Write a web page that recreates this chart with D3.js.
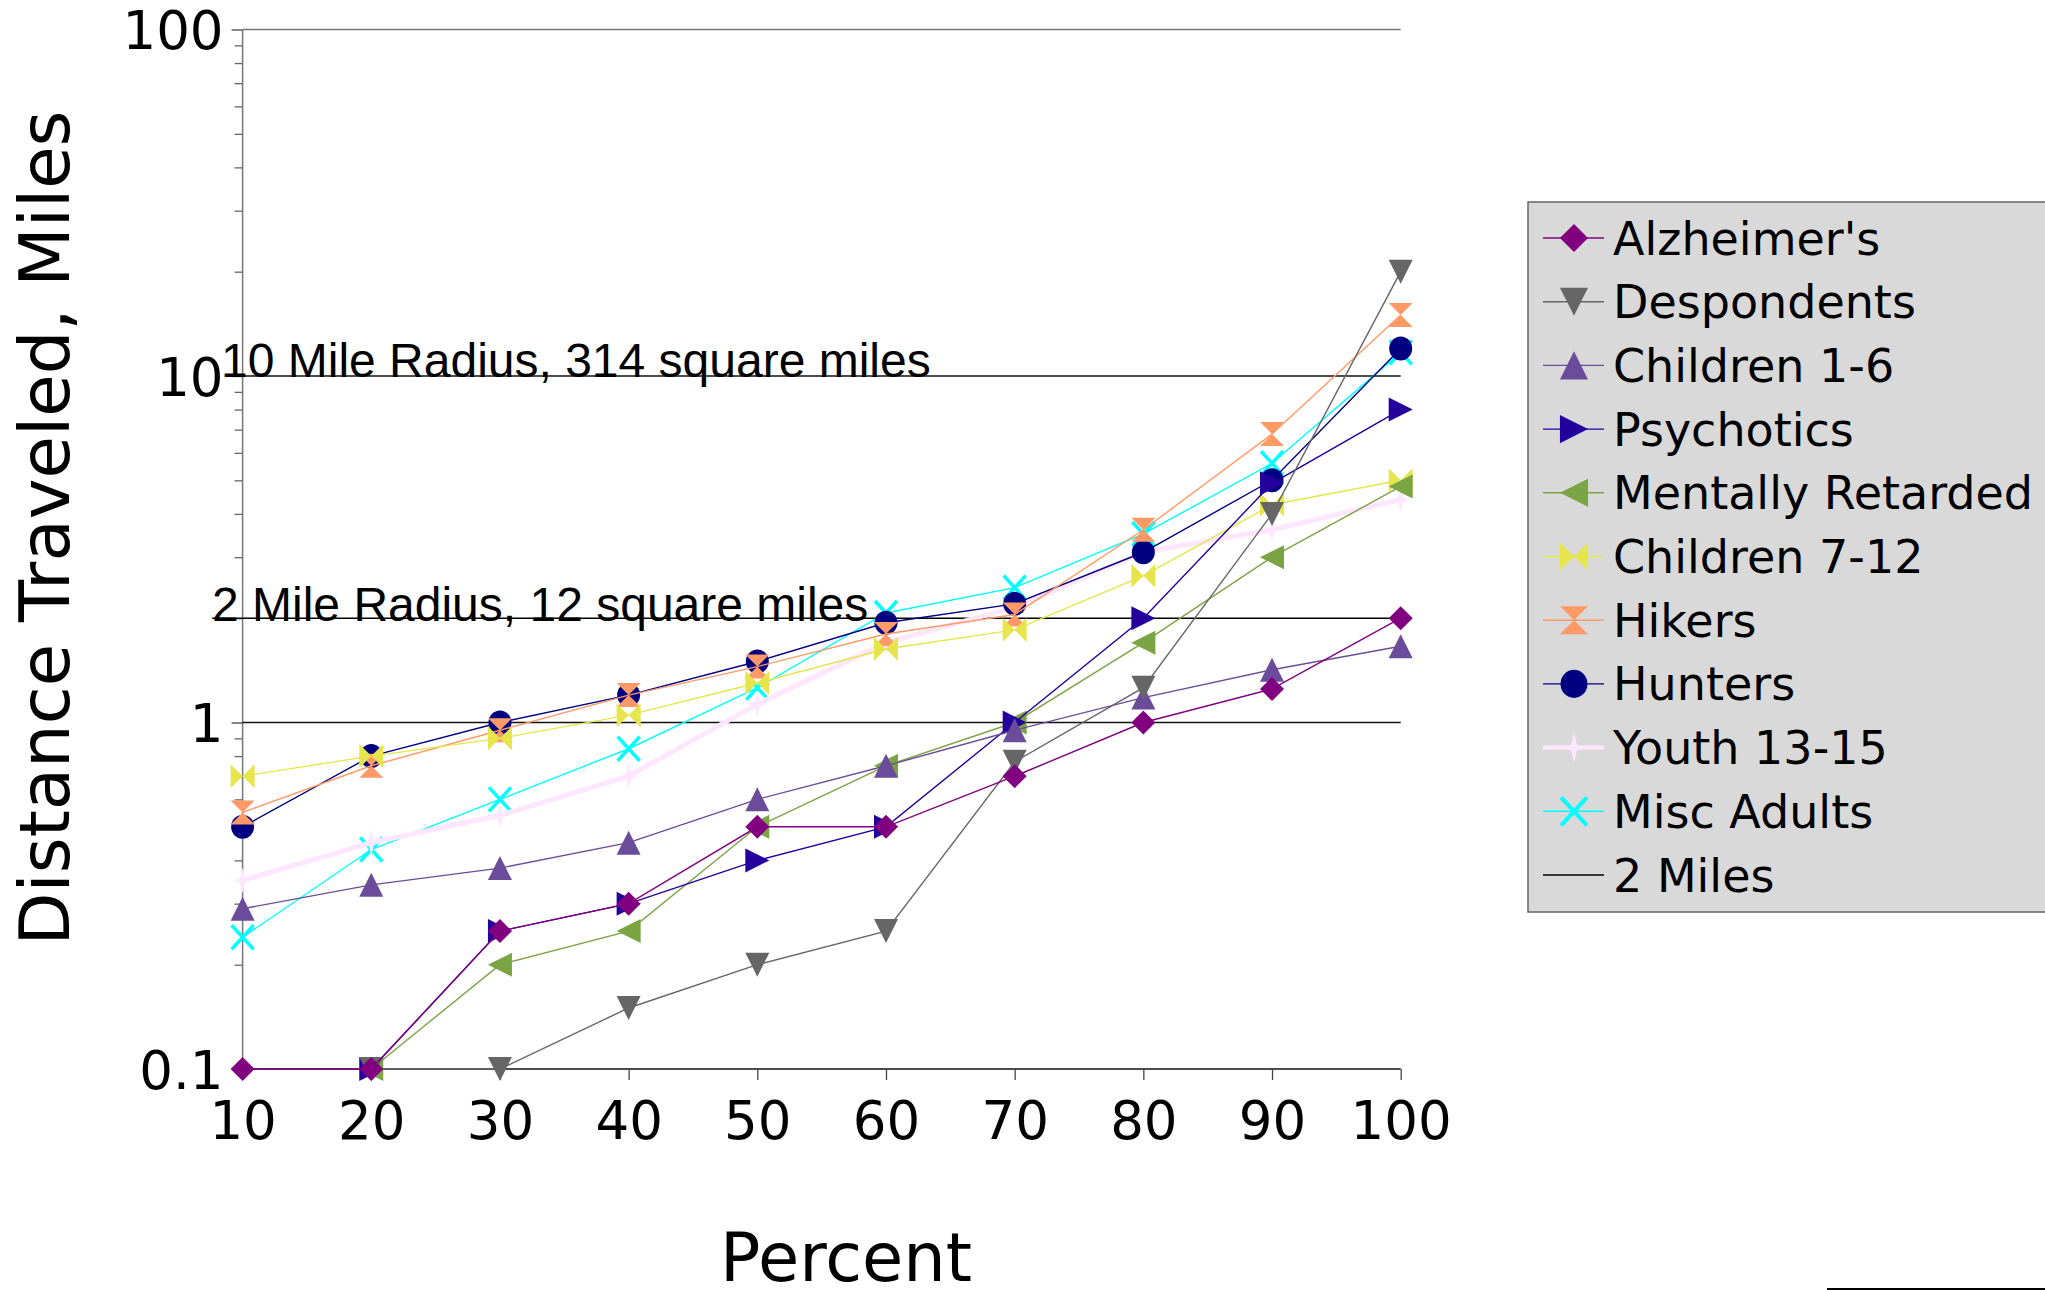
<!DOCTYPE html>
<html>
<head>
<meta charset="utf-8">
<script src="https://cdn.jsdelivr.net/npm/d3@7"></script>
<style>
  body { margin: 0; background: #fff; }
  svg { display: block; }
</style>
</head>
<body>
<svg id="chart"></svg>
<script>
// Distance traveled (miles) by lost-person category, at each percentile
const percents = [10, 20, 30, 40, 50, 60, 70, 80, 90, 100];
const alzheimers = [0.1, 0.1, 0.25, 0.3, 0.5, 0.5, 0.7, 1.0, 1.25, 2.0];
const despondents = [null, 0.1, 0.1, 0.15, 0.2, 0.25, 0.77, 1.26, 4.0, 20];
const children1to6 = [0.29, 0.34, 0.38, 0.45, 0.6, 0.75, 0.95, 1.18, 1.42, 1.66];
const psychotics = [null, 0.1, 0.25, 0.3, 0.4, 0.5, 1.0, 2.0, 4.9, 8.0];
const mentallyRetarded = [null, 0.1, 0.2, 0.25, 0.5, 0.75, 1.0, 1.7, 3.0, 4.8];
const children7to12 = [0.7, 0.8, 0.9, 1.05, 1.3, 1.63, 1.85, 2.65, 4.25, 5.0];
const hikers = [0.55, 0.75, 0.95, 1.2, 1.45, 1.8, 2.05, 3.6, 6.8, 15];
const hunters = [0.5, 0.8, 1.0, 1.2, 1.5, 1.94, 2.2, 3.1, 5.0, 12];
const youth13to15 = [0.35, 0.45, 0.54, 0.7, 1.13, 1.7, 2.15, 3.1, 3.6, 4.4];
const miscAdults = [0.24, 0.43, 0.6, 0.84, 1.26, 2.07, 2.45, 3.5, 5.6, 11.7];
const twoMiles = [2, 2, 2, 2, 2, 2, 2, 2, 2, 2];

const yMajorTicks = [0.1, 1, 10, 100];
const yTickLabels = ["0.1", "1", "10", "100"];

const series = [
    { name: "Alzheimer's", values: alzheimers, color: "#800080", shape: "diamond" },
    { name: "Despondents", values: despondents, color: "#666666", shape: "down" },
    { name: "Children 1-6", values: children1to6, color: "#6b4c9a", shape: "up" },
    { name: "Psychotics", values: psychotics, color: "#24009c", shape: "right" },
    { name: "Mentally Retarded", values: mentallyRetarded, color: "#7ba444", shape: "left" },
    { name: "Children 7-12", values: children7to12, color: "#e6e64c", shape: "bowtie" },
    { name: "Hikers", values: hikers, color: "#ff9966", shape: "hourglass" },
    { name: "Hunters", values: hunters, color: "#000080", shape: "circle" },
    { name: "Youth 13-15", values: youth13to15, color: "#ffe6ff", shape: "star", width: 5 },
    { name: "Misc Adults", values: miscAdults, color: "#00ffff", shape: "cross" },
    { name: "2 Miles", values: twoMiles, color: "#000000", shape: "none" }
];

const W = 2045, H = 1290;
const svg = d3.select("#chart").attr("width", W).attr("height", H);
svg.append("rect").attr("width", W).attr("height", H).attr("fill", "#fff");

const x = d3.scaleLinear().domain([10, 100]).range([242.6, 1400.7]);
const y = d3.scaleLog().domain([0.1, 100]).range([1069, 29.5]);

const tickFont = "'DejaVu Sans', sans-serif";

// marker paths, all drawn in a 24px box centred on the point
const s = 12;
const shapes = {
    diamond: `M0,${-s}L${s},0L0,${s}L${-s},0Z`,
    down: `M${-s},${-s}L${s},${-s}L0,${s}Z`,
    up: `M0,${-s}L${s},${s}L${-s},${s}Z`,
    right: `M${-s},${-s}L${s},0L${-s},${s}Z`,
    left: `M${s},${-s}L${-s},0L${s},${s}Z`,
    bowtie: `M${-s},${-s}L0,0L${-s},${s}Z M${s},${-s}L0,0L${s},${s}Z`,
    hourglass: `M${-s},${-s}L${s},${-s}L0,0Z M${-s},${s}L${s},${s}L0,0Z`,
    star: `M0,-13L2.5,-2.5L9,0L2.5,2.5L0,13L-2.5,2.5L-9,0L-2.5,-2.5Z`
};

function drawMarker(g, shape, color) {
    if (shape === "none") return;
    if (shape === "circle") {
        g.append("ellipse").attr("rx", 11.5).attr("ry", 12).attr("fill", color);
    } else if (shape === "cross") {
        g.append("path").attr("d", `M-11,-12L11,12M11,-12L-11,12`)
            .attr("stroke", color).attr("stroke-width", 3.5).attr("fill", "none");
    } else {
        g.append("path").attr("d", shapes[shape]).attr("fill", color);
    }
}

// y axis: minor ticks, major ticks and labels
const minorTicks = [];
[0.1, 1, 10].forEach(d => { for (let k = 2; k <= 9; k++) minorTicks.push(+(d * k).toPrecision(3)); });

const yMinor = svg.append("g")
    .attr("transform", `translate(${x(10)},0)`)
    .call(d3.axisLeft(y).tickValues(minorTicks).tickSize(8).tickFormat(""));
yMinor.select(".domain").remove();
yMinor.selectAll("line").attr("stroke", "#666").attr("stroke-width", 1.3);

const yAxis = svg.append("g")
    .attr("transform", `translate(${x(10)},0)`)
    .call(d3.axisLeft(y).tickValues(yMajorTicks).tickSize(11).tickPadding(8)
        .tickFormat((d, i) => yTickLabels[i]));
yAxis.select(".domain").attr("stroke", "#777").attr("stroke-width", 1.5)
    .attr("d", `M0,${y(0.1)}V${y(100)}`);
yAxis.selectAll("line").attr("stroke", "#444").attr("stroke-width", 1.3);
yAxis.selectAll("text").attr("font-family", tickFont).attr("font-size", 53)
    .attr("fill", "#000").attr("dy", "0.36em");

// horizontal grid lines at the decades
svg.append("g").selectAll("line")
    .data([1, 10, 100]).enter().append("line")
    .attr("x1", x(10)).attr("x2", x(100))
    .attr("y1", d => y(d)).attr("y2", d => y(d))
    .attr("stroke", d => d === 100 ? "#777" : "#111")
    .attr("stroke-width", 1.4);

// x axis
const xAxis = svg.append("g")
    .attr("transform", `translate(0,${y(0.1)})`)
    .call(d3.axisBottom(x).tickValues(percents).tickSize(11).tickPadding(21));
xAxis.select(".domain").attr("stroke", "#111").attr("stroke-width", 1.5)
    .attr("d", `M${x(10)},0H${x(100)}`);
xAxis.selectAll("line").attr("stroke", "#444").attr("stroke-width", 1.3);
xAxis.selectAll("text").attr("font-family", tickFont).attr("font-size", 53).attr("fill", "#000");

// annotations
svg.append("text")
    .attr("x", 221).attr("y", 377)
    .attr("font-family", "'Liberation Sans', Arial, sans-serif").attr("font-size", 48)
    .text("10 Mile Radius, 314 square miles");
svg.append("line")
    .attr("x1", 212).attr("x2", x(10)).attr("y1", y(2)).attr("y2", y(2))
    .attr("stroke", "#000").attr("stroke-width", 1.4);

// series lines and markers, first series drawn on top
const line = d3.line()
    .defined(d => d.v !== null)
    .x(d => x(d.p))
    .y(d => y(d.v));

const seriesG = svg.append("g");
series.slice().reverse().forEach(ser => {
    const pts = percents.map((p, i) => ({ p: p, v: ser.values[i] }));
    const g = seriesG.append("g");
    g.append("path")
        .datum(pts)
        .attr("d", line)
        .attr("fill", "none")
        .attr("stroke", ser.color)
        .attr("stroke-width", ser.width || 1.4);
    pts.filter(d => d.v !== null).forEach(d => {
        drawMarker(g.append("g").attr("transform", `translate(${x(d.p)},${y(d.v)})`), ser.shape, ser.color);
    });
});

svg.append("text")
    .attr("x", 212).attr("y", 621)
    .attr("font-family", "'Liberation Sans', Arial, sans-serif").attr("font-size", 48)
    .text("2 Mile Radius, 12 square miles");

// axis titles
svg.append("text")
    .attr("transform", "translate(69,528) rotate(-90)")
    .attr("text-anchor", "middle")
    .attr("font-family", tickFont).attr("font-size", 69)
    .text("Distance Traveled, Miles");

svg.append("text")
    .attr("x", 846).attr("y", 1281)
    .attr("text-anchor", "middle")
    .attr("font-family", tickFont).attr("font-size", 67)
    .text("Percent");

// legend
const legend = svg.append("g").attr("transform", "translate(1528,202)");
legend.append("rect")
    .attr("width", 600).attr("height", 710)
    .attr("fill", "#d9d9d9").attr("stroke", "#666").attr("stroke-width", 1.5);

series.forEach((ser, i) => {
    const row = legend.append("g").attr("transform", `translate(0,${36 + i * 63.7})`);
    row.append("line")
        .attr("x1", 15).attr("x2", 76)
        .attr("stroke", ser.color).attr("stroke-width", ser.width ? 4 : 1.4);
    drawMarker(row.append("g").attr("transform", "translate(46,0) scale(1.17)"), ser.shape, ser.color);
    row.append("text")
        .attr("x", 85).attr("dy", "0.36em")
        .attr("font-family", tickFont).attr("font-size", 46)
        .text(ser.name);
});

// stray rule at the bottom right edge
svg.append("line")
    .attr("x1", 1827).attr("x2", W).attr("y1", 1289).attr("y2", 1289)
    .attr("stroke", "#000").attr("stroke-width", 2);
</script>
</body>
</html>
